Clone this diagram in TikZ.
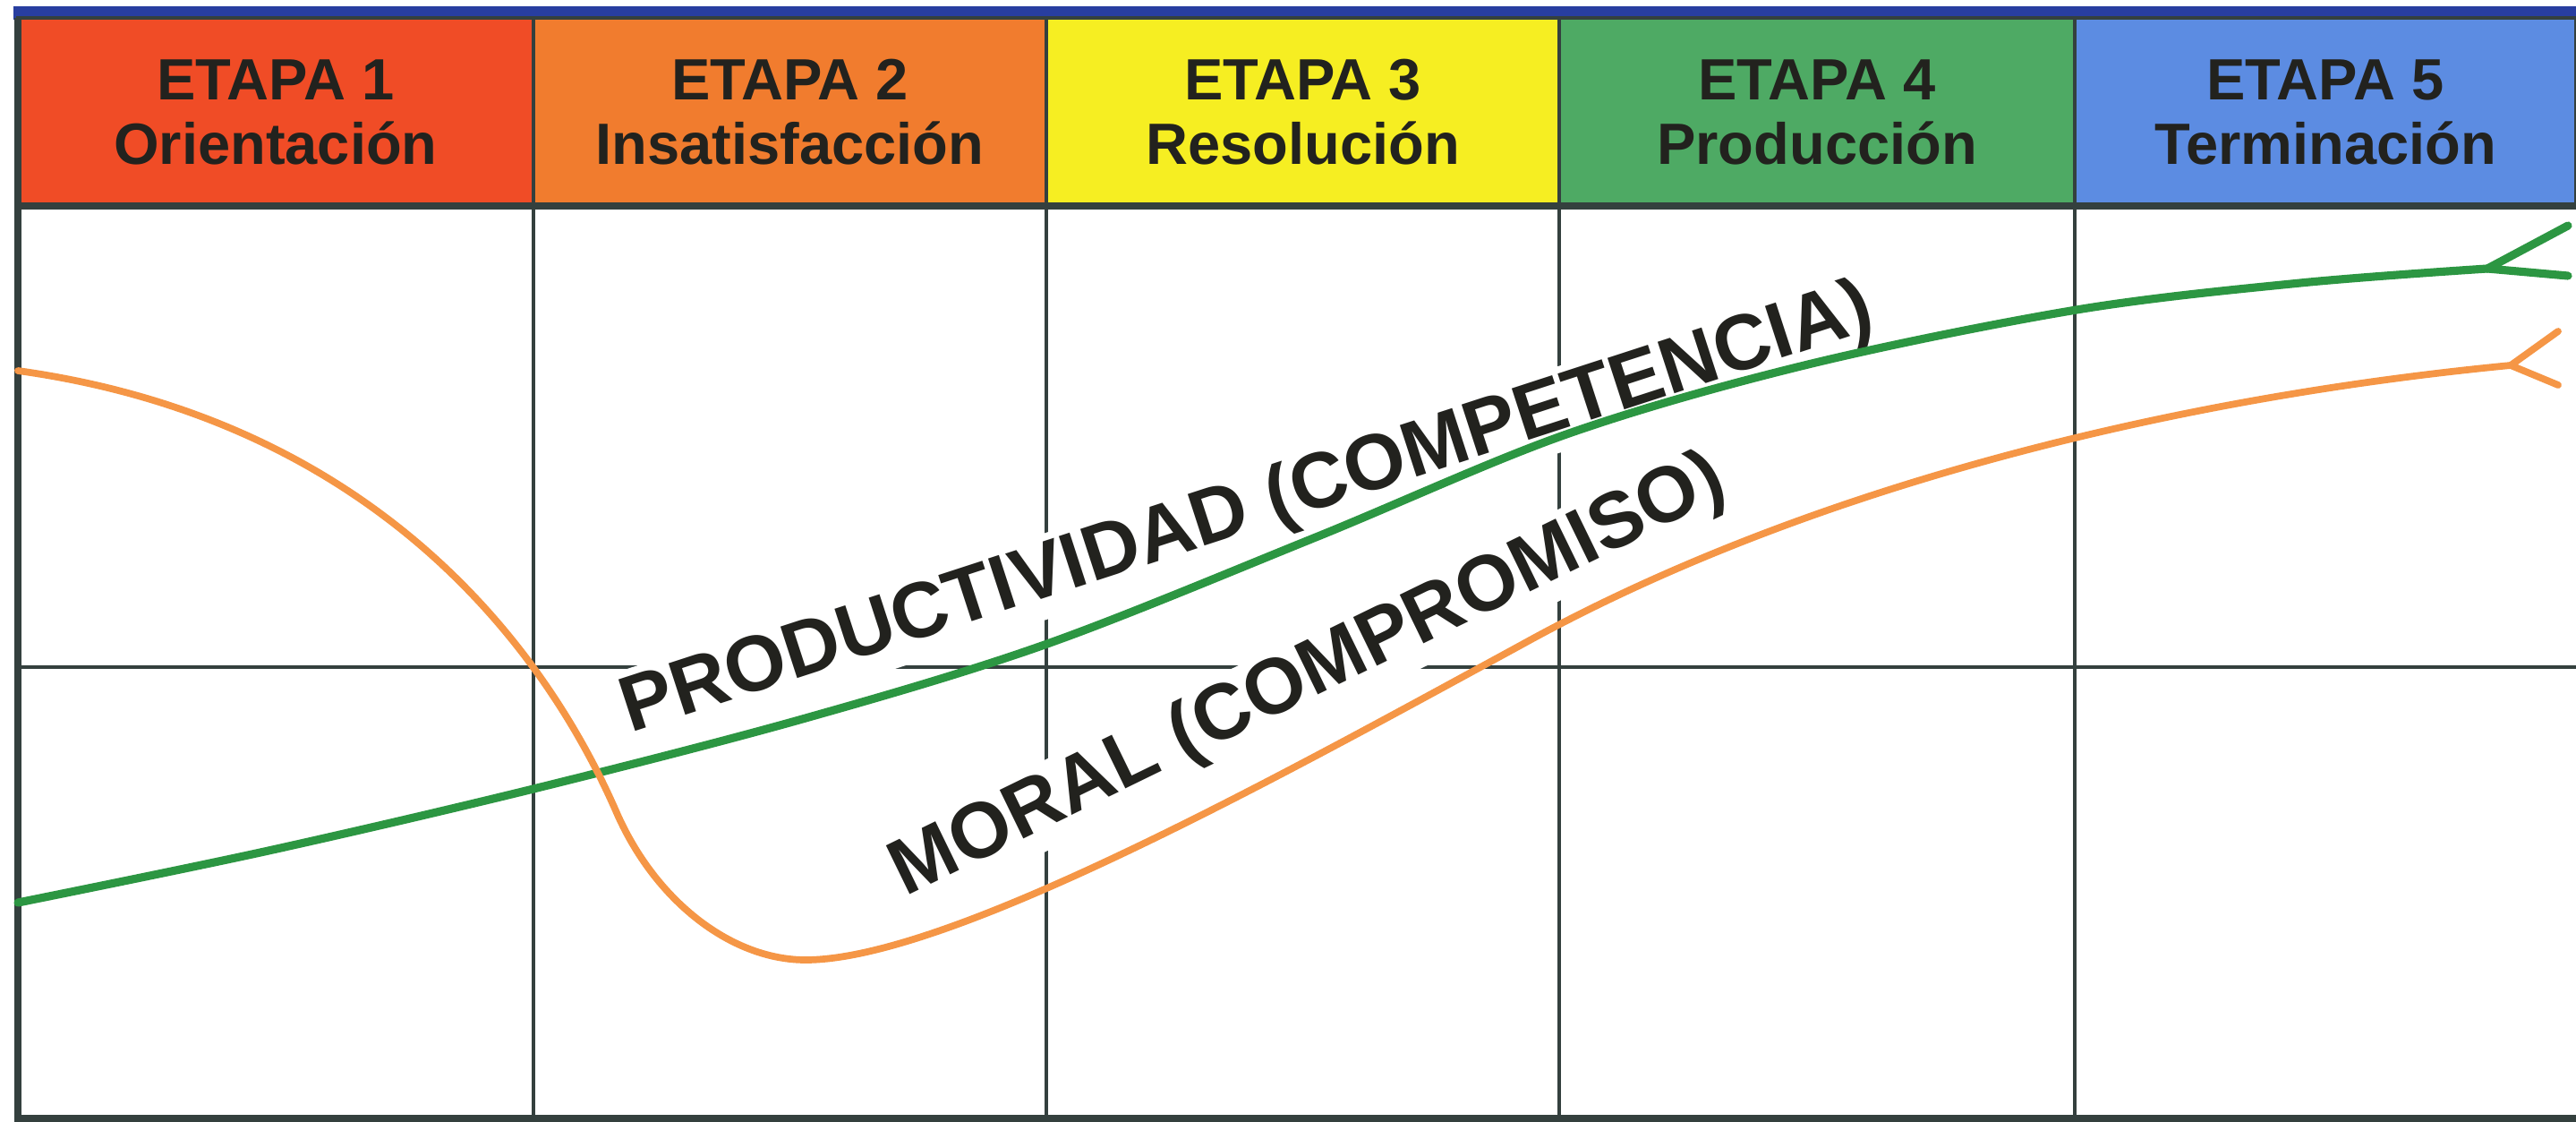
\documentclass[tikz,border=0pt]{standalone}
\usepackage{fontspec}
\setmainfont{Liberation Sans}
\usetikzlibrary{positioning}
\definecolor{etapaA}{RGB}{240,76,38}
\definecolor{etapaB}{RGB}{241,124,46}
\definecolor{etapaC}{RGB}{246,238,34}
\definecolor{etapaD}{RGB}{78,170,100}
\definecolor{etapaE}{RGB}{92,140,226}
\definecolor{bandblue}{RGB}{40,62,160}
\definecolor{gridcol}{RGB}{52,64,62}
\definecolor{textcol}{RGB}{34,34,30}
\definecolor{prodgreen}{RGB}{44,150,66}
\definecolor{moralorange}{RGB}{245,150,70}
\tikzstyle{hbox}=[rectangle, draw=gridcol, line width=1pt, outer sep=0pt, minimum width=5.73cm, minimum height=2.10cm, inner sep=0pt, align=center, text=textcol, font=\fontsize{18.5}{20.5}\selectfont\bfseries]
\tikzstyle{gline}=[-, line width=1.2pt, draw=gridcol]
\tikzstyle{fline}=[-, line width=2pt, draw=gridcol]
\tikzstyle{curvelab}=[fill=white, inner sep=1.5pt, anchor=base west, text=textcol, font=\fontsize{25}{30}\selectfont\bfseries]
\tikzstyle{prodline}=[line width=2.6pt, draw=prodgreen, line cap=round, line join=round]
\tikzstyle{moralline}=[line width=2.2pt, draw=moralorange, line cap=round, line join=round]

\begin{document}
\begin{tikzpicture}[node distance=0mm]
\useasboundingbox[fill=white] (0,0) rectangle (28.78,12.52);
\fill[bandblue] (0.15,12.30) rectangle (28.78,12.45);
% etapas
\node (E1) [hbox, fill=etapaA, minimum width=5.76cm, anchor=north west] at (0.20,12.32) {ETAPA 1\\Orientación};
\node (E2) [hbox, fill=etapaB, right=of E1] {ETAPA 2\\Insatisfacción};
\node (E3) [hbox, fill=etapaC, right=of E2] {ETAPA 3\\Resolución};
\node (E4) [hbox, fill=etapaD, minimum width=5.76cm, right=of E3] {ETAPA 4\\Producción};
\node (E5) [hbox, fill=etapaE, minimum width=5.60cm, right=of E4] {ETAPA 5\\Terminación};
\coordinate (BL) at (0.20,0.03);
\coordinate (ML) at (0.20,5.07);
% rejilla
\draw[gline] (E1.south east) -- (E1.south east |- BL);
\draw[gline] (E2.south east) -- (E2.south east |- BL);
\draw[gline] (E3.south east) -- (E3.south east |- BL);
\draw[gline] (E4.south east) -- (E4.south east |- BL);
\draw[gline] (ML) -- (ML -| E5.east);
\draw[fline] (E1.north west) -- (BL) -- (BL -| E5.east);
\draw[fline] (E1.south west) -- (E5.south east);
% etiquetas
\node (PRODlab) [curvelab, rotate=18] at (6.99,4.32) {PRODUCTIVIDAD (COMPETENCIA)};
\node (MORlab) [curvelab, rotate=26] at (10.06,2.48) {MORAL (COMPROMISO)};
% curvas
\coordinate (GJ) at (27.79,9.52);
\coordinate (GU) at (28.69,10.00);
\coordinate (GD) at (28.69,9.44);
\coordinate (OJ) at (28.05,8.44);
\coordinate (OU) at (28.58,8.82);
\coordinate (OD) at (28.58,8.22);
\draw[prodline] plot[smooth, tension=0.55] coordinates {(0.20,2.44) (3.0,3.02) (6.0,3.72) (9.0,4.50) (11.7,5.33) (14.7,6.52) (17.5,7.67) (20.2,8.45) (23.2,9.06) (25.7,9.36) (27.79,9.52)};
\draw[prodline] (GJ) -- (GU);
\draw[prodline] (GJ) -- (GD);
\draw[moralline] (0.20,8.38) .. controls (4.0,7.85) and (6.0,5.5) .. (6.9,3.42)
  .. controls (7.35,2.42) and (8.2,1.80) .. (9.0,1.80)
  .. controls (10.6,1.80) and (14.3,3.85) .. (17.0,5.32)
  .. controls (20.0,6.98) and (24.0,8.05) .. (OJ);
\draw[moralline] (OJ) -- (OU);
\draw[moralline] (OJ) -- (OD);
\end{tikzpicture}
\end{document}
